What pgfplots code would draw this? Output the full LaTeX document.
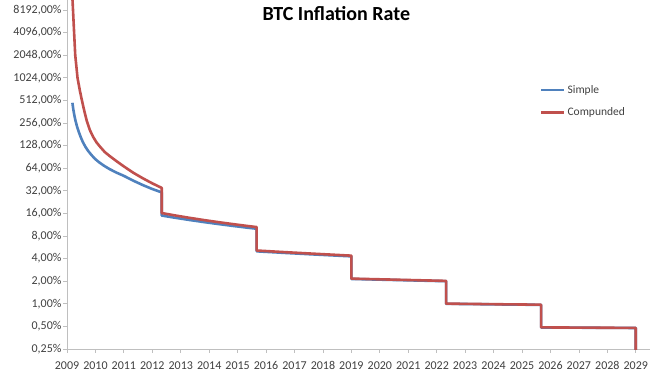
\documentclass[border=0pt]{standalone}
\usepackage{pgfplots}
\pgfplotsset{compat=1.18}
\usepackage{fontspec}
\setmainfont{Carlito}
\definecolor{xlblue}{HTML}{4F81BD}
\definecolor{xlred}{HTML}{C0504D}
\definecolor{axgray}{HTML}{BFBFBF}
\definecolor{txtgray}{HTML}{404040}
\begin{document}
\begin{tikzpicture}
\begin{axis}[
  scale only axis,
  width=583bp, height=349bp,
  xmin=2009, xmax=2029.5,
  ymode=log, ymin=0.25, ymax=11140,
  axis x line*=bottom, axis y line*=left,
  axis line style={axgray, line width=0.8bp},
  tick style={axgray, line width=0.8bp},
  tick align=outside,
  major tick length=4bp,
  minor tick num=0,
  xtick={2009,2010,2011,2012,2013,2014,2015,2016,2017,2018,2019,2020,2021,2022,2023,2024,2025,2026,2027,2028,2029},
  xticklabels={2009,2010,2011,2012,2013,2014,2015,2016,2017,2018,2019,2020,2021,2022,2023,2024,2025,2026,2027,2028,2029},
  ytick={0.25,0.5,1,2,4,8,16,32,64,128,256,512,1024,2048,4096,8192},
  yticklabels={{0,25\%},{0,50\%},{1,00\%},{2,00\%},{4,00\%},{8,00\%},{16,00\%},{32,00\%},{64,00\%},{128,00\%},{256,00\%},{512,00\%},{1024,00\%},{2048,00\%},{4096,00\%},{8192,00\%}},
  ticklabel style={font=\fontsize{12bp}{14bp}\selectfont, text=txtgray},
  yticklabel style={xshift=2bp},
  xticklabel style={yshift=-5bp},
  title={BTC Inflation Rate},
  title style={at={(rel axis cs:0.462,0.945)}, anchor=center, font=\fontsize{20bp}{24bp}\selectfont\bfseries, text=black},
  legend style={at={(rel axis cs:0.811,0.762)}, anchor=north west, draw=none, fill=none,
    font=\fontsize{11.5bp}{14bp}\selectfont, text=txtgray, row sep=9bp, inner sep=0pt},
  legend cell align=left,
  legend image code/.code={\draw[#1] (0bp,0bp) -- (23bp,0bp);},
]
\addplot[xlblue, line width=2.6bp, line join=round] coordinates {
(2009.19,476) (2009.22,393) (2009.26,322) (2009.30,274) (2009.35,232) (2009.41,197)
(2009.48,167) (2009.56,142) (2009.65,123) (2009.75,108) (2009.86,96) (2009.98,85.6)
(2010.12,77.2) (2010.30,69.1) (2010.50,62.2) (2010.75,55.7) (2011.00,50.6) (2011.33,43.7)
(2011.67,38.1) (2012.00,33.8) (2012.33,30.5)
(2012.33,15.0) (2012.83,13.95) (2013.33,13.04) (2013.83,12.24) (2014.33,11.54) (2014.83,10.91) (2015.33,10.34) (2015.67,10.0)
(2015.67,5.0) (2016.67,4.76) (2017.67,4.545) (2018.67,4.348) (2019.0,4.286)
(2019.0,2.143) (2020.0,2.098) (2021.0,2.055) (2022.0,2.013) (2022.33,2.0)
(2022.33,1.0) (2023.33,0.990) (2024.33,0.980) (2025.33,0.971) (2025.67,0.968)
(2025.67,0.4839) (2026.67,0.4815) (2027.67,0.4792) (2028.67,0.4770) (2029.0,0.4762)
(2029.0,0.2381)
};
\addlegendentry{Simple}
\addplot[xlred, line width=2.6bp, line join=round] coordinates {
(2009.19,12000) (2009.25,4096) (2009.29,2048) (2009.37,1024) (2009.45,700) (2009.52,522)
(2009.60,383) (2009.69,278) (2009.80,208) (2009.92,167) (2010.04,141) (2010.16,124)
(2010.33,105) (2010.50,93) (2010.75,79) (2011.00,67.6) (2011.33,55.7) (2011.67,46.9)
(2012.00,40.2) (2012.33,35)
(2012.33,16.18) (2012.83,14.97) (2013.33,13.93) (2013.83,13.02) (2014.33,12.23) (2014.83,11.53) (2015.33,10.90) (2015.67,10.52)
(2015.67,5.127) (2016.67,4.875) (2017.67,4.650) (2018.67,4.444) (2019.0,4.379)
(2019.0,2.166) (2020.0,2.120) (2021.0,2.076) (2022.0,2.033) (2022.33,2.020)
(2022.33,1.005) (2023.33,0.995) (2024.33,0.985) (2025.33,0.976) (2025.67,0.973)
(2025.67,0.4851) (2026.67,0.4827) (2027.67,0.4803) (2028.67,0.4781) (2029.0,0.4773)
(2029.0,0.2384)
};
\addlegendentry{Compunded}
\end{axis}
\pgfresetboundingbox
\useasboundingbox (-67bp,-27bp) rectangle (601bp,349bp);
\end{tikzpicture}
\end{document}
